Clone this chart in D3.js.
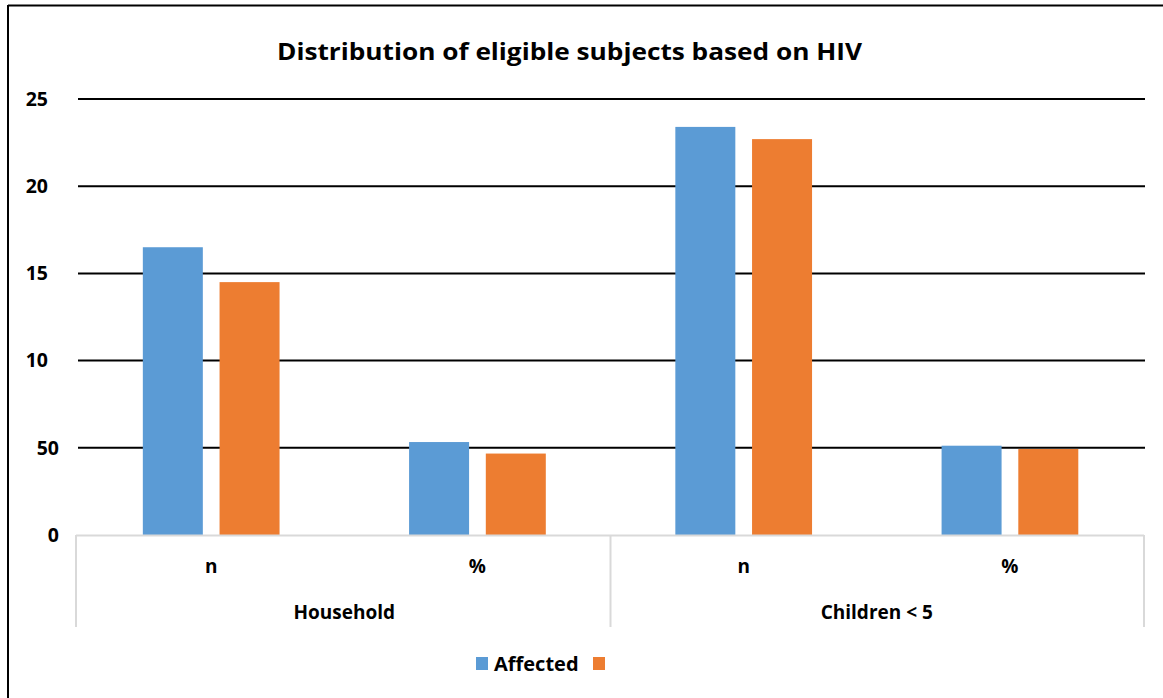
<!DOCTYPE html>
<html>
<head>
<meta charset="utf-8">
<script src="https://cdn.jsdelivr.net/npm/d3@7/dist/d3.min.js"></script>
<style>
  html, body { margin: 0; padding: 0; background: #fff; }
  svg { display: block; font-family: "Open Sans", "Liberation Sans", sans-serif; }
</style>
</head>
<body>
<svg id="chart" width="1163" height="698"></svg>
<script>
// ---- data ----
const title = "Distribution of eligible subjects based on HIV";
const groups = ["Household", "Children < 5"];
const subCategories = ["n", "%"];
const seriesNames = ["Affected", ""];
const affected = [16.5, 5.33, 23.4, 5.12];
const notAffected = [14.5, 4.67, 22.7, 4.93];
const yTicks = [0, 5, 10, 15, 20, 25];
const yTickLabels = ["0", "50", "10", "15", "20", "25"];
const colors = ["#5b9bd5", "#ed7d31"];

// ---- layout ----
const W = 1163, H = 698;
const plot = { left: 78, right: 1143, top: 99, bottom: 535 };
const svg = d3.select("#chart");

// frame (partial border as in reference)
svg.append("line").attr("x1", 8).attr("x2", 8).attr("y1", 5).attr("y2", H)
  .attr("stroke", "#000").attr("stroke-width", 2);
svg.append("line").attr("x1", 8).attr("x2", W).attr("y1", 5.5).attr("y2", 5.5)
  .attr("stroke", "#000").attr("stroke-width", 2);

// title
svg.append("text").attr("x", 277).attr("y", 60)
  .attr("font-size", 24).attr("font-weight", 700).attr("fill", "#000")
  .attr("textLength", 585).attr("lengthAdjust", "spacingAndGlyphs")
  .text(title);

// scales
const categories = [];
groups.forEach(g => subCategories.forEach(s => categories.push(g + "|" + s)));
const x0 = d3.scaleBand().domain(categories).range([plot.left, plot.right]).padding(0);
const bw = x0.bandwidth();
const x1 = d3.scaleBand().domain([0, 1]).range([bw * 0.2435, bw * 0.757]).paddingInner(0.218).paddingOuter(0);
const y = d3.scaleLinear().domain([0, 25]).range([plot.bottom, plot.top]);

// gridlines
svg.append("g").selectAll("line").data(yTicks.filter(v => v > 0)).join("line")
  .attr("x1", plot.left).attr("x2", plot.right + 2)
  .attr("y1", d => y(d)).attr("y2", d => y(d))
  .attr("stroke", "#000").attr("stroke-width", 2);

// y tick labels
svg.append("g").selectAll("text").data(yTicks).join("text")
  .attr("x", (d, i) => yTickLabels[i].length > 1 && d >= 10 ? 48 : 59)
  .attr("y", d => y(d))
  .attr("dy", "0.35em")
  .attr("text-anchor", "end")
  .attr("font-size", 19.5).attr("font-weight", 700).attr("fill", "#000")
  .text((d, i) => yTickLabels[i]);

// bars
const seriesData = [affected, notAffected];
seriesData.forEach((vals, si) => {
  svg.append("g").selectAll("rect").data(vals).join("rect")
    .attr("x", (d, i) => x0(categories[i]) + x1(si))
    .attr("y", d => y(d))
    .attr("width", x1.bandwidth())
    .attr("height", d => y(0) - y(d))
    .attr("fill", colors[si]);
});

// category axis box
const gray = "#d9d9d9";
svg.append("line").attr("x1", plot.left - 2).attr("x2", plot.right + 1)
  .attr("y1", plot.bottom + 0.5).attr("y2", plot.bottom + 0.5)
  .attr("stroke", gray).attr("stroke-width", 2);
const groupScale = d3.scaleBand().domain(groups).range([plot.left, plot.right]);
const dividers = [plot.left - 2, groupScale(groups[1]), plot.right + 1];
svg.append("g").selectAll("line").data(dividers).join("line")
  .attr("x1", d => d).attr("x2", d => d)
  .attr("y1", plot.bottom).attr("y2", 627)
  .attr("stroke", gray).attr("stroke-width", 2);

// sub-category labels
svg.append("g").selectAll("text").data(categories).join("text")
  .attr("x", d => x0(d) + bw / 2)
  .attr("y", 573)
  .attr("text-anchor", "middle")
  .attr("font-size", 19).attr("font-weight", 700).attr("fill", "#000")
  .text(d => d.split("|")[1]);

// group labels
svg.append("g").selectAll("text").data(groups).join("text")
  .attr("x", d => groupScale(d) + groupScale.bandwidth() / 2)
  .attr("y", 619)
  .attr("text-anchor", "middle")
  .attr("font-size", 19).attr("font-weight", 700).attr("fill", "#000")
  .text(d => d);

// legend
const lg = svg.append("g");
lg.append("rect").attr("x", 476).attr("y", 657).attr("width", 12).attr("height", 13).attr("fill", colors[0]);
lg.append("text").attr("x", 494).attr("y", 671)
  .attr("font-size", 20).attr("font-weight", 700).attr("fill", "#000")
  .text(seriesNames[0]);
lg.append("rect").attr("x", 593).attr("y", 657).attr("width", 12).attr("height", 13).attr("fill", colors[1]);
</script>
</body>
</html>
